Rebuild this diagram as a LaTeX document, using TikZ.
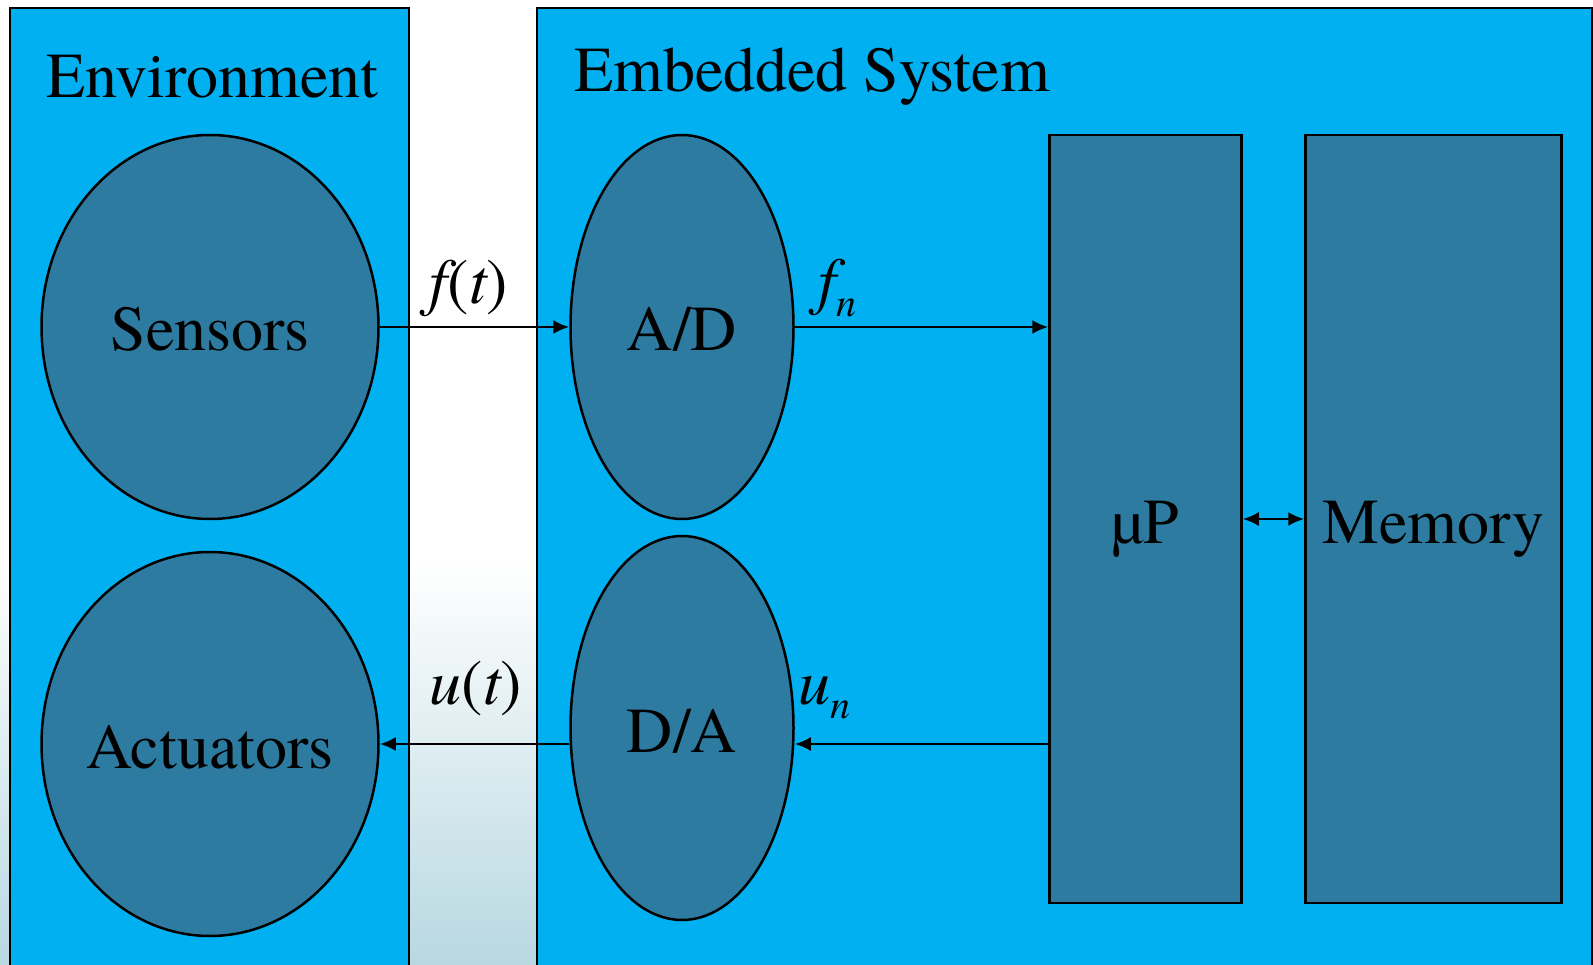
\documentclass[tikz,border=0pt]{standalone}
\usepackage{fontspec}
\setmainfont{texgyretermes}[Extension=.otf,UprightFont=*-regular,ItalicFont=*-italic,BoldFont=*-bold,BoldItalicFont=*-bolditalic]
\usetikzlibrary{shapes.geometric,arrows.meta}
\definecolor{panelblue}{RGB}{0,176,240}
\definecolor{blockblue}{RGB}{45,123,160}
\definecolor{hazeblue}{RGB}{184,216,225}
\def\bigfont{\fontsize{64}{70}\selectfont}
\tikzset{
  panel/.style={draw=black,line width=2.5pt,fill=panelblue},
  unit/.style={ellipse,draw=black,line width=2.5pt,fill=blockblue,inner sep=0pt,inner xsep=-40pt,
    text height=56pt,text depth=8pt,font=\bigfont},
  block/.style={rectangle,draw=black,line width=2.5pt,fill=blockblue,inner sep=0pt,
    text height=56pt,text depth=8pt,font=\bigfont},
  sig/.style={line width=2.5pt,-{Latex[length=16pt,width=14pt]}},
  lbl/.style={font=\bigfont\itshape,inner sep=0pt}
}

\begin{document}
\begin{tikzpicture}[x=1pt,y=-1pt]
  \useasboundingbox (0,0) rectangle (1593,965);
  % backdrop
  \fill[white] (0,0) rectangle (1593,965);
  \shade[top color=white,bottom color=hazeblue] (0,560) rectangle (1593,965);

  % the two panels
  \draw[panel] (10,8) rectangle (409,975);
  \draw[panel] (537,8) rectangle (1592,975);
  \node[anchor=west,font=\bigfont,inner sep=0pt] (envtitle) at (46,77) {Environment};
  \node[anchor=west,font=\bigfont,inner sep=0pt] (embtitle) at (574,77) {Embedded System};

  % environment side
  \node[unit,minimum width=337pt,minimum height=384pt] (sensors) at (210,327) {Sensors};
  \node[unit,minimum width=337pt,minimum height=384pt] (actuators) at (210,744) {Actuators};

  % converters
  \node[unit,minimum width=223pt,minimum height=384pt] (ad) at (682,327) {A/D};
  \node[unit,minimum width=223pt,minimum height=384pt] (da) at (682,728) {D/A};

  % processor and memory
  \node[block,minimum width=192pt,minimum height=768pt] (up) at (1145.5,519) {µP};
  \node[block,minimum width=256pt,minimum height=768pt] (mem) at (1433.5,519) {Memory};

  % signals
  \draw[sig] (sensors.east) -- (ad.west);
  \draw[sig] (ad.east) -- (ad.east -| up.west);
  \draw[sig] (up.west |- actuators.east) -- (da.east |- actuators.east);
  \draw[sig] (actuators.east -| da.west) -- (actuators.east);
  \draw[line width=2.5pt,{Latex[length=16pt,width=14pt]}-{Latex[length=16pt,width=14pt]}] (up.east) -- (mem.west);

  \node[lbl] (ft) at (469,288) {f\upshape(\itshape t\upshape)};
  \node[lbl] (ut) at (476,689) {u\upshape(\itshape t\upshape)};
  \node[lbl,anchor=west] (fn) at (818,288) {f\raisebox{-14pt}{\fontsize{40}{44}\selectfont n}};
  \node[lbl,anchor=west] (un) at (798,698) {u\raisebox{-14pt}{\fontsize{40}{44}\selectfont n}};
\end{tikzpicture}
\end{document}
